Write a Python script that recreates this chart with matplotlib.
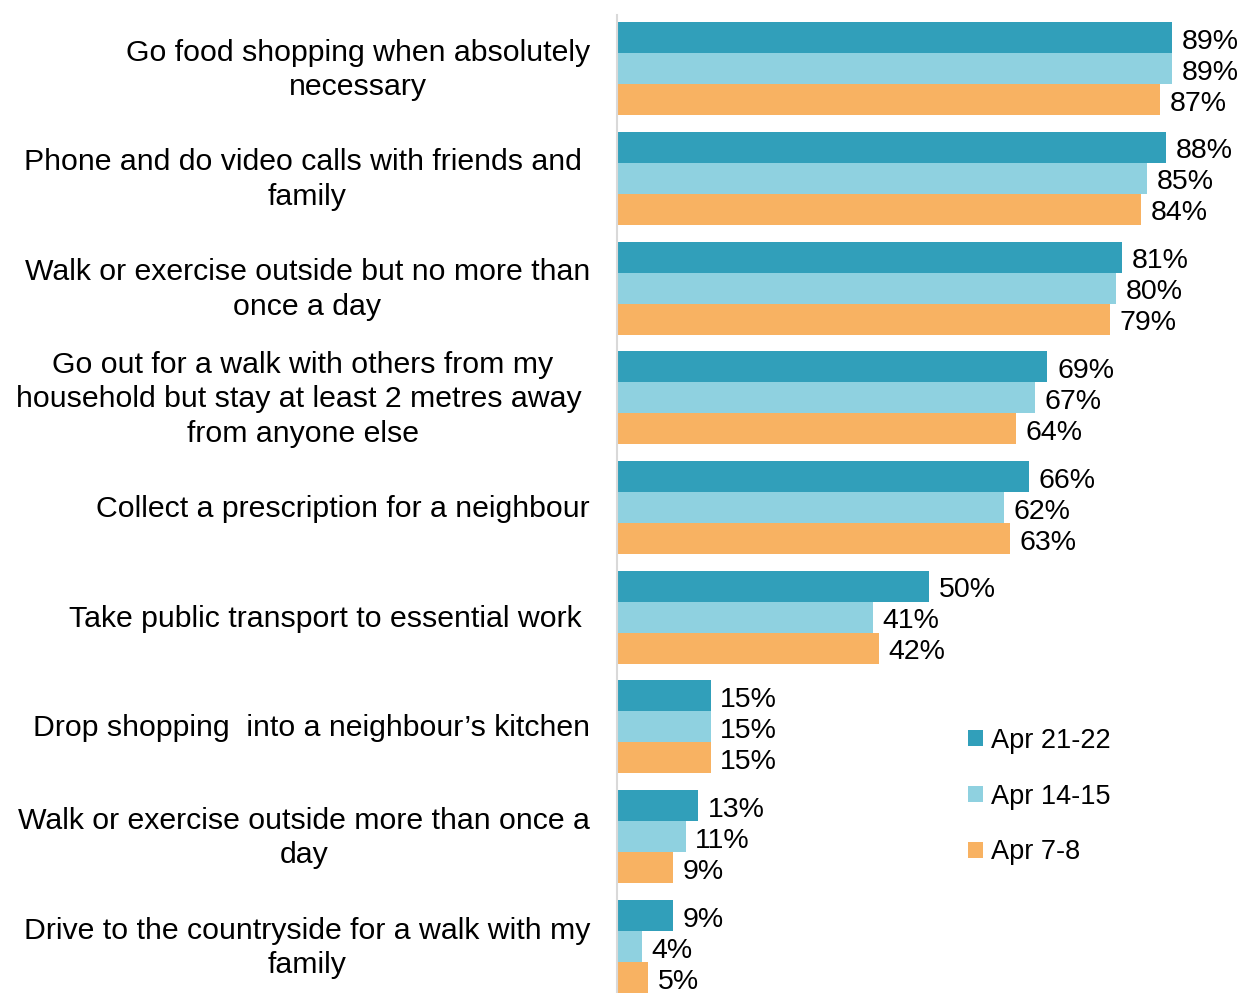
import matplotlib
matplotlib.use("Agg")
import matplotlib.pyplot as plt
import numpy as np

plt.rcParams['font.family'] = ['Liberation Sans', 'DejaVu Sans']

categories = [
    "Go food shopping when absolutely\nnecessary",
    "Phone and do video calls with friends and \nfamily",
    "Walk or exercise outside but no more than\nonce a day",
    "Go out for a walk with others from my\nhousehold but stay at least 2 metres away \nfrom anyone else",
    "Collect a prescription for a neighbour",
    "Take public transport to essential work ",
    "Drop shopping  into a neighbour\u2019s kitchen",
    "Walk or exercise outside more than once a\nday",
    "Drive to the countryside for a walk with my\nfamily",
]
series_names = ["Apr 21-22", "Apr 14-15", "Apr 7-8"]
apr21_22 = [89, 88, 81, 69, 66, 50, 15, 13, 9]
apr14_15 = [89, 85, 80, 67, 62, 41, 15, 11, 4]
apr7_8 = [87, 84, 79, 64, 63, 42, 15, 9, 5]
colors = ["#319FBA", "#8FD1E0", "#F8B262"]

W, H = 1239, 993
fig = plt.figure(figsize=(W / 100, H / 100), dpi=100)
ax = fig.add_axes([617 / W, 0, 622 / W, 978 / H])

pitch = 109.75
bh = 31 / pitch
y = np.arange(len(categories))
fs_val = 20.5
fs_cat = 21.8
for k, (vals, c, name) in enumerate(zip([apr21_22, apr14_15, apr7_8], colors, series_names)):
    pos = y + (k - 1) * bh
    ax.barh(pos, vals, height=bh, color=c, label=name, edgecolor='none')
    for p, v in zip(pos, vals):
        ax.annotate(f"{v}%", (v, p), xytext=(7, -3), textcoords='offset points',
                    va='center', ha='left', fontsize=fs_val, color='black', annotation_clip=False)

ax.set_xlim(0, 622 / 6.236)
ax.set_ylim((993 - 68.5) / pitch, (15 - 68.5) / pitch)
ax.set_xticks([])
ax.set_yticks([])
for s in ['top', 'right', 'bottom']:
    ax.spines[s].set_visible(False)
ax.spines['left'].set_color('#D9D9D9')
ax.spines['left'].set_linewidth(1.5)

for yi, lab in zip(y, categories):
    ax.annotate(lab, (0, yi), xytext=(-(617 - 590) * 0.72, -1), textcoords='offset points',
                ha='right', va='center', multialignment='center', fontsize=fs_cat,
                linespacing=1.3, annotation_clip=False)

leg = ax.legend(loc='upper left', bbox_to_anchor=((957 - 617) / 622, (978 - (717 - 15)) / 978),
                frameon=False, fontsize=19.5, handlelength=0.55, handleheight=0.55,
                handletextpad=0.3, labelspacing=1.1, borderaxespad=0)

fig.savefig("out.png", dpi=100)
